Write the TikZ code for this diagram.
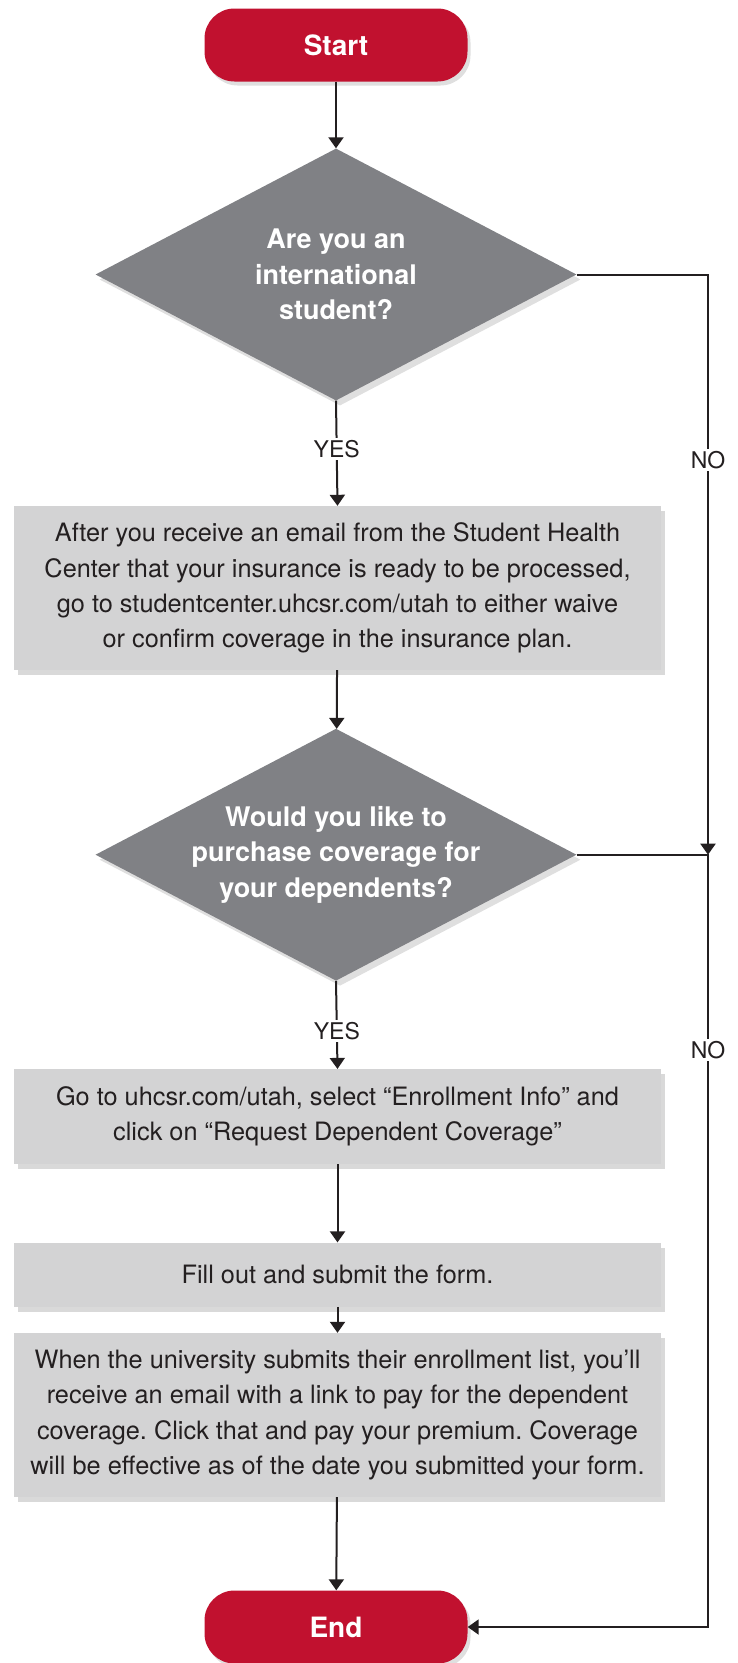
\documentclass[tikz,border=0pt]{standalone}
\usepackage{fontspec}
\setmainfont{TeX Gyre Heros}
\usetikzlibrary{shapes.geometric,shadows,arrows.meta}
\definecolor{redc}{HTML}{C1112F}
\definecolor{diagray}{HTML}{808185}
\definecolor{boxgray}{HTML}{D3D3D4}
\definecolor{linec}{HTML}{231F20}
\frenchspacing
\begin{document}
\begin{tikzpicture}[x=1pt,y=-1pt,
  term/.style={rectangle, rounded corners=30pt, fill=redc, minimum width=263pt, minimum height=73pt,
    text=white, font=\fontsize{28}{30}\selectfont\bfseries,
    drop shadow={opacity=0.25, shadow xshift=3pt, shadow yshift=-4pt}},
  decide/.style={diamond, aspect=1.9, inner sep=0pt, fill=diagray, minimum width=481pt, minimum height=252pt,
    text=white, align=center, font=\fontsize{27}{35.5}\selectfont\bfseries,
    drop shadow={opacity=0.25, shadow xshift=4pt, shadow yshift=-5pt}},
  proc/.style={rectangle, fill=boxgray, minimum width=647pt, inner sep=0pt, align=center,
    text=linec, font=\fontsize{25.3}{35.3}\selectfont\frenchspacing,
    drop shadow={opacity=0.3, shadow xshift=4pt, shadow yshift=-5pt}},
  lab/.style={fill=white, inner sep=2pt, text=linec, font=\fontsize{23}{26}\selectfont},
  conn/.style={draw=linec, line width=2pt},
  arr/.style={conn, -{Triangle[width=15pt,length=11pt]}}
]
\useasboundingbox (0,0) rectangle (737,1663);

\node[term] (start) at (336,45) {Start};
\node[decide] (d1) at (336,274.5) {Are you an\\international\\student?};
\node[proc, minimum height=164pt] (b1) at (337.5,588) {After you receive an email from the Student Health\\Center that your insurance is ready to be processed,\\go to studentcenter.uhcsr.com/utah to either waive\\or confirm coverage in the insurance plan.};
\node[decide] (d2) at (336,854.7) {Would you like to\\purchase coverage for\\your dependents?};
\node[proc, minimum height=95pt] (b2) at (337.5,1116.6) {Go to uhcsr.com/utah, select “Enrollment Info” and\\click on “Request Dependent Coverage”};
\node[proc, minimum height=64pt] (b3) at (337.5,1274.6) {Fill out and submit the form.};
\node[proc, minimum height=164pt] (b4) at (337.5,1415) {When the university submits their enrollment list, you’ll\\receive an email with a link to pay for the dependent\\coverage. Click that and pay your premium. Coverage\\will be effective as of the date you submitted your form.};
\node[term] (end) at (336,1627) {End};

\coordinate (j) at (708,854.7);

\draw[arr] (start) -- (d1);
\draw[arr] (d1.south) -- node[lab, pos=0.46] {YES} (b1.north);
\draw[arr] (b1) -- (d2);
\draw[arr] (d2.south) -- node[lab, pos=0.57] {YES} (b2.north);
\draw[arr] (b2) -- (b3);
\draw[arr] (b3) -- (b4);
\draw[arr] (b4) -- (end);
\draw[arr] (d1.east) -| node[lab, pos=0.66] {NO} (j);
\draw[arr] (d2.east) -- (j) -- node[lab, pos=0.253] {NO} (j |- end.east) -- (end.east);
\end{tikzpicture}
\end{document}
